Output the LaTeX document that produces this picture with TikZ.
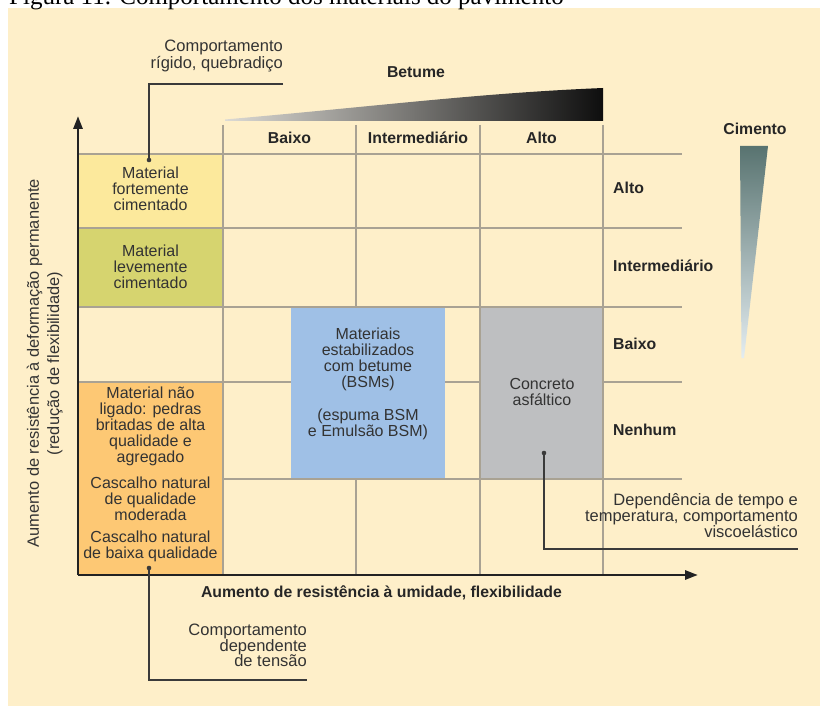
\documentclass[tikz,border=0pt]{standalone}
\usepackage{fontspec}
\setmainfont{Liberation Sans}
\newfontfamily\capfont{Liberation Serif}
\usetikzlibrary{arrows.meta}
\definecolor{cream}{HTML}{FEEFC9}
\definecolor{gridc}{HTML}{A9A293}
\definecolor{axisc}{HTML}{222222}
\definecolor{leadc}{HTML}{3A3A3A}
\definecolor{txtc}{HTML}{333333}
\definecolor{hdrc}{HTML}{262626}
\definecolor{yel}{HTML}{FCE99C}
\definecolor{grn}{HTML}{D6D46F}
\definecolor{org}{HTML}{FDC874}
\definecolor{blu}{HTML}{9FC0E6}
\definecolor{gry}{HTML}{BEBFC1}
\definecolor{cemtop}{HTML}{587370}
\definecolor{cembot}{HTML}{E4EDF1}
\definecolor{betl}{HTML}{DCDAD4}
\definecolor{betm}{HTML}{7A7A7A}
\definecolor{betr}{HTML}{0E0E0E}
\begin{document}
\begin{tikzpicture}[x=1pt,y=-1pt,
  gridline/.style={gridc, line width=2.6pt},
  axisline/.style={axisc, line width=2.8pt, -{Triangle[length=13pt,width=9pt]}},
  leader/.style={leadc, line width=1.4pt},
  leaddot/.style={fill=leadc, draw=none},
  hdr/.style={font=\fontsize{15.8}{16}\selectfont\bfseries, text=hdrc, inner sep=0pt},
  body/.style={font=\fontsize{16}{16}\selectfont, text=txtc, align=center, inner sep=0pt},
  ann/.style={font=\fontsize{16.5}{15.5}\selectfont, text=txtc, align=right, inner sep=0pt},
  ylab/.style={font=\fontsize{16.4}{16}\selectfont, text=txtc, inner sep=0pt, rotate=90}]
\useasboundingbox (0,0) rectangle (820,706);
\begin{scope}
\clip (0,0) rectangle (820,706);
\fill[white] (0,0) rectangle (820,706);
\fill[cream] (8,8) rectangle (820,706);
\node[anchor=base west, font=\capfont\fontsize{25}{25}\selectfont, inner sep=0pt, text=black] (cap) at (9,4.5) {Figura 11. Comportamento dos materiais do pavimento};

% coloured cells
\fill[yel] (78,154) rectangle (223,228);
\fill[grn] (78,228) rectangle (223,307);
\fill[org] (78,382) rectangle (223,575);

% grid
\foreach \yy in {154,228,307,382} \draw[gridline] (78,\yy) -- (682,\yy);
\draw[gridline] (223,479) -- (682,479);
\foreach \xx in {223,356,480,603} \draw[gridline] (\xx,125) -- (\xx,575);

% boxes over grid
\fill[blu] (291,308.3) rectangle (445,477.7);
\fill[gry] (481.3,308.3) rectangle (601.7,477.7);

% axes
\coordinate (O) at (78,575);
\coordinate (ytip) at (78,116);
\coordinate (xtip) at (698,575);
\draw[axisline] (O) -- (ytip);
\draw[axisline] (O) -- (xtip);

% wedges
\shade[left color=betl, middle color=betm, right color=betr]
  (225,121) -- (225,119.5) .. controls (380,106) and (480,93) .. (603,88) -- (603,121) -- cycle;
\shade[top color=cemtop, bottom color=cembot]
  (740,146) -- (768,146) -- (744,358) -- (741.5,358) -- cycle;

% headers
\node[hdr] (betume) at (416,72) {Betume};
\node[hdr] (cimento) at (755,129) {Cimento};
\node[hdr] (cb) at (289.5,138) {Baixo};
\node[hdr] (ci) at (418,138) {Intermediário};
\node[hdr] (ca) at (541.5,138) {Alto};
\node[hdr, anchor=west] (ra) at (613,188) {Alto};
\node[hdr, anchor=west] (ri) at (613,266) {Intermediário};
\node[hdr, anchor=west] (rb) at (613,344) {Baixo};
\node[hdr, anchor=west] (rn) at (613,430) {Nenhum};

% axis labels
\node[hdr] (xlab) at (381.5,593) {Aumento de resistência à umidade, flexibilidade};
\node[ylab] (ylab1) at (34.5,363) {Aumento de resistência à deformação permanente};
\node[ylab] (ylab2) at (55,363.5) {(redução de flexibilidade)};

% cell texts
\node[body] (tyel) at (150.5,189) {Material\\fortemente\\cimentado};
\node[body] (tgrn) at (150.5,266.5) {Material\\levemente\\cimentado};
\node[body] (torg1) at (150.5,426.5) {Material não\\ligado: pedras\\britadas de alta\\qualidade e\\agregado};
\node[body] (torg2) at (150.5,499) {Cascalho natural\\de qualidade\\moderada};
\node[body] (torg3) at (150.5,546.5) {Cascalho natural\\de baixa qualidade};
\node[body] (tblu1) at (368,359.5) {Materiais\\estabilizados\\com betume\\(BSMs)};
\node[body] (tblu2) at (368,424) {(espuma BSM\\e Emulsão BSM)};
\node[body] (tgry) at (542,392) {Concreto\\asfáltico};

% annotations
\node[ann, font=\fontsize{16.5}{14}\selectfont, anchor=east] (arig) at (283,56) {Comportamento\\rígido, quebradiço};
\node[ann, anchor=east] (aten) at (307,645.5) {Comportamento\\dependente\\de tensão};
\node[ann, anchor=east] (avis) at (798,516) {Dependência de tempo e\\temperatura, comportamento\\viscoelástico};

% leaders
\coordinate (d1) at (149,160);
\coordinate (k1) at (283,84);
\coordinate (d2) at (149,568);
\coordinate (k2) at (307,680);
\coordinate (d3) at (544,453);
\coordinate (k3) at (798,549);
\draw[leader] (k1) -| (d1);
\draw[leader] (d2) |- (k2);
\draw[leader] (d3) |- (k3);
\fill[leaddot] (d1) circle (2.3);
\fill[leaddot] (d2) circle (2.3);
\fill[leaddot] (d3) circle (2.3);
\end{scope}
\end{tikzpicture}
\end{document}
